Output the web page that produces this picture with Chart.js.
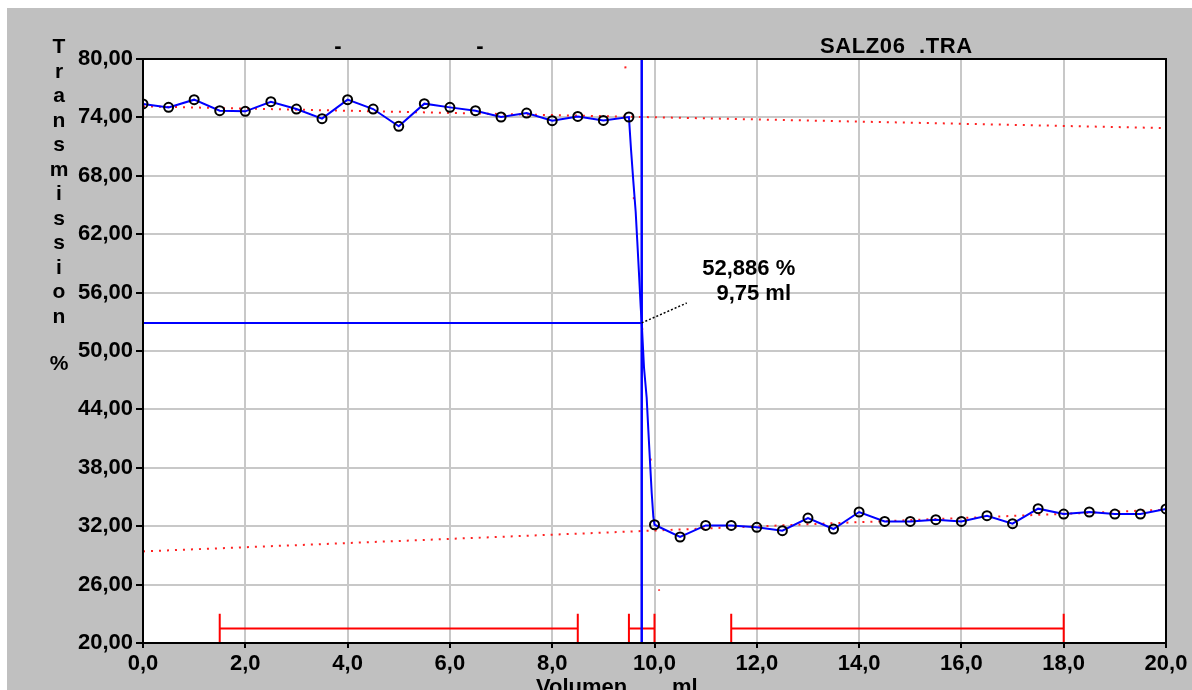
<!DOCTYPE html>
<html>
<head>
<meta charset="utf-8">
<script src="https://cdn.jsdelivr.net/npm/chart.js@4/dist/chart.umd.min.js"></script>
<style>
  html, body { margin: 0; padding: 0; background: #ffffff; }
  #wrap { position: relative; width: 1192px; height: 690px; }
</style>
</head>
<body>
<div id="wrap"><canvas id="titration"></canvas></div>
<script>
// Titration curve: transmission (%) against added volume (ml)
const volumes = [0.0, 0.5, 1.0, 1.5, 2.0, 2.5, 3.0, 3.5, 4.0, 4.5, 5.0, 5.5, 6.0, 6.5, 7.0, 7.5, 8.0, 8.5, 9.0, 9.5,
                 10.0, 10.5, 11.0, 11.5, 12.0, 12.5, 13.0, 13.5, 14.0, 14.5, 15.0, 15.5, 16.0, 16.5, 17.0, 17.5, 18.0, 18.5, 19.0, 19.5, 20.0];
const transmission = [75.38, 75.03, 75.82, 74.69, 74.62, 75.61, 74.86, 73.87, 75.82, 74.86, 73.08, 75.41, 75.03, 74.69, 74.04, 74.45, 73.66, 74.10, 73.69, 74.04,
                      32.15, 30.89, 32.08, 32.08, 31.88, 31.54, 32.84, 31.71, 33.46, 32.49, 32.49, 32.67, 32.49, 33.08, 32.26, 33.80, 33.25, 33.46, 33.25, 33.25, 33.77];

// smoothed curve through the jump between 9.5 and 10.0 ml
const jumpVolumes = [9.54, 9.585, 9.632, 9.664, 9.697, 9.730, 9.750, 9.795, 9.847, 9.879, 9.912, 9.945, 9.977];
const jumpTransmission = [70.78, 67.50, 64.31, 61.23, 57.94, 54.55, 52.90, 48.28, 45.20, 41.91, 38.63, 35.44, 32.97];

// regression lines (ml, %)
const upperFitVolumes = [0, 20];
const upperFitValues = [75.13, 72.90];
const lowerFitVolumes = [0, 20];
const lowerFitValues = [29.41, 33.70];
const steepFitVolumes = [9.43, 10.09];
const steepFitValues = [79.24, 25.37];

// equivalence point
const endPointVolume = 9.75;
const endPointTransmission = 52.886;
const leaderEnd = [10.63, 54.93];

// evaluation ranges (ml)
const rangeStarts = [1.5, 9.5, 11.5];
const rangeEnds = [8.5, 10.0, 18.0];
const rangeLevel = 21.5;
const rangeMarkTop = 23;

const yTicks = [20, 26, 32, 38, 44, 50, 56, 62, 68, 74, 80];
const xTicks = [0, 2, 4, 6, 8, 10, 12, 14, 16, 18, 20];

const headerTexts = ['-', '-', 'SALZ06  .TRA'];
const yTitle = 'Transmission';
const yUnit = '%';
const xTitle = 'Volumen';
const xUnit = 'ml';

const FONT = '"Liberation Sans", Arial, sans-serif';
const comma = (v, d) => v.toFixed(d).replace('.', ',');

const pts = (xs, ys) => xs.map((x, i) => ({ x: x, y: ys[i] }));
const measured = pts(volumes, transmission);
const curve = measured.filter(p => p.x <= 9.5)
  .concat(pts(jumpVolumes, jumpTransmission))
  .concat(measured.filter(p => p.x >= 10.0));

const rangeSets = rangeStarts.map((s, i) => {
  const e = rangeEnds[i];
  return {
    data: [{x: s, y: rangeMarkTop}, {x: s, y: 20}, {x: s, y: rangeLevel}, {x: e, y: rangeLevel}, {x: e, y: rangeMarkTop}, {x: e, y: 20}],
    borderColor: '#ff0000', borderWidth: 2, pointRadius: 0, order: 5
  };
});

const panelPlugin = {
  id: 'panel',
  beforeDraw(chart) {
    const { ctx, chartArea: a } = chart;
    ctx.save();
    ctx.fillStyle = '#ffffff';
    ctx.fillRect(0, 0, chart.width, chart.height);
    ctx.fillStyle = '#c0c0c0';
    ctx.fillRect(7, 8, chart.width - 7, chart.height - 8);
    ctx.fillStyle = '#ffffff';
    ctx.fillRect(a.left, a.top, a.right - a.left, a.bottom - a.top);
    ctx.restore();
  },
  afterDraw(chart) {
    const { ctx, chartArea: a, scales } = chart;
    const sx = scales.x, sy = scales.y;
    ctx.save();
    // frame
    ctx.strokeStyle = '#000000';
    ctx.lineWidth = 2;
    ctx.strokeRect(a.left, a.top, a.right - a.left, a.bottom - a.top);

    ctx.fillStyle = '#000000';
    ctx.font = 'bold 22px ' + FONT;
    ctx.textBaseline = 'alphabetic';
    // header line
    ctx.textAlign = 'center';
    ctx.fillText(headerTexts[0], 338, 53);
    ctx.fillText(headerTexts[1], 480, 53);
    ctx.textAlign = 'left';
    ctx.letterSpacing = '0.6px';
    ctx.fillText(headerTexts[2], 820, 53);
    ctx.letterSpacing = '0px';

    // stacked y title
    ctx.font = 'bold 21px ' + FONT;
    ctx.textAlign = 'center';
    for (let i = 0; i < yTitle.length; i++) {
      ctx.fillText(yTitle[i], 59, 53 + i * 24.5);
    }
    ctx.fillText(yUnit, 59, 370);

    // x title
    ctx.font = 'bold 22px ' + FONT;
    ctx.textAlign = 'left';
    ctx.fillText(xTitle, 536, 694);
    ctx.fillText(xUnit, 672, 694);

    // equivalence annotation
    const lx = sx.getPixelForValue(leaderEnd[0]);
    const ly = sy.getPixelForValue(leaderEnd[1]);
    ctx.textAlign = 'center';
    ctx.fillText(comma(endPointTransmission, 3) + ' %', lx + 62, ly - 28);
    ctx.fillText(comma(endPointVolume, 2) + ' ml', lx + 67, ly - 3);
    ctx.restore();
  }
};

new Chart(document.getElementById('titration'), {
  type: 'line',
  data: {
    datasets: [
      { data: curve, borderColor: '#0000ff', borderWidth: 2, pointRadius: 0, order: 2 },
      { data: measured, showLine: false, pointStyle: 'circle', pointRadius: 4.5, pointBorderWidth: 2,
        pointBorderColor: '#000000', pointBackgroundColor: 'rgba(0,0,0,0)', order: 1 },
      { data: pts(upperFitVolumes, upperFitValues), borderColor: '#ff2020', borderWidth: 2, borderDash: [2, 6], pointRadius: 0, order: 6 },
      { data: pts(lowerFitVolumes, lowerFitValues), borderColor: '#ff2020', borderWidth: 2, borderDash: [2, 6], pointRadius: 0, order: 6 },
      { data: pts(steepFitVolumes, steepFitValues), borderColor: '#ff2020', borderWidth: 2, borderDash: [2, 129], pointRadius: 0, order: 6 },
      { data: [{x: endPointVolume, y: 20}, {x: endPointVolume, y: 80}], borderColor: '#0000ff', borderWidth: 2.5, pointRadius: 0, order: 3 },
      { data: [{x: 0, y: endPointTransmission}, {x: endPointVolume, y: endPointTransmission}], borderColor: '#0000ff', borderWidth: 2, pointRadius: 0, order: 3 },
      { data: [{x: endPointVolume, y: endPointTransmission}, {x: leaderEnd[0], y: leaderEnd[1]}], borderColor: '#000000', borderWidth: 1.5, borderDash: [2, 2], pointRadius: 0, order: 0 },
      ...rangeSets
    ]
  },
  options: {
    responsive: true,
    maintainAspectRatio: false,
    animation: false,
    events: [],
    layout: { padding: { left: 0, top: 59, right: 26, bottom: 0 } },
    plugins: { legend: { display: false }, tooltip: { enabled: false }, title: { display: false } },
    elements: { line: { tension: 0 } },
    scales: {
      x: {
        type: 'linear', min: 0, max: 20,
        afterBuildTicks: s => { s.ticks = xTicks.map(v => ({ value: v })); },
        afterFit: s => { s.height = 47; },
        grid: { color: '#c8c8c8', lineWidth: 2, tickLength: 5, tickColor: '#000000', tickWidth: 2 },
        border: { color: '#000000', width: 2 },
        ticks: { color: '#000000', padding: 3, maxRotation: 0, autoSkip: false,
                 font: { family: FONT, weight: 'bold', size: 22 },
                 callback: v => comma(v, 1) }
      },
      y: {
        type: 'linear', min: 20, max: 80,
        afterBuildTicks: s => { s.ticks = yTicks.map(v => ({ value: v })); },
        afterFit: s => { s.width = 143; },
        grid: { color: '#c8c8c8', lineWidth: 2, tickLength: 7, tickColor: '#000000', tickWidth: 2 },
        border: { color: '#000000', width: 2 },
        ticks: { color: '#000000', padding: 3, autoSkip: false,
                 font: { family: FONT, weight: 'bold', size: 22 },
                 callback: v => comma(v, 2) }
      }
    }
  },
  plugins: [panelPlugin]
});
</script>
</body>
</html>
